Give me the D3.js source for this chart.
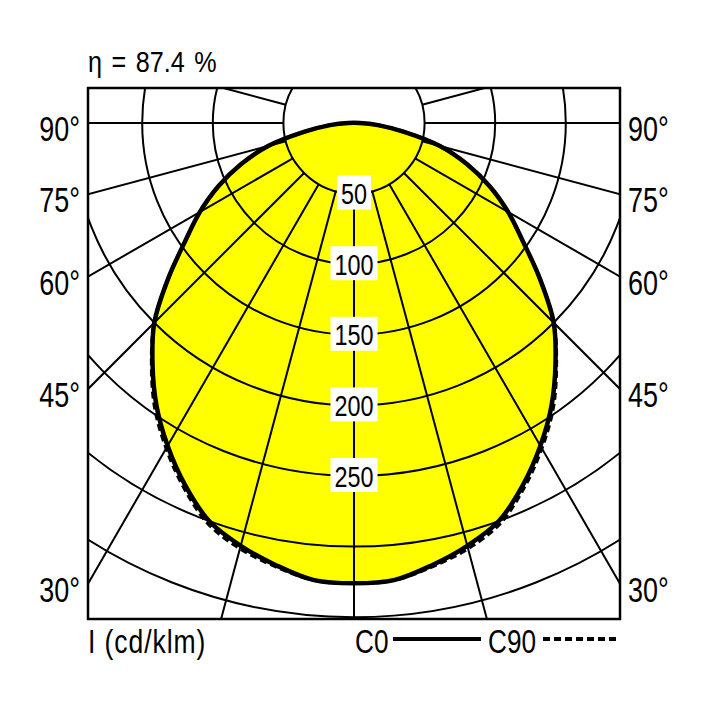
<!DOCTYPE html>
<html lang="en">
<head>
<meta charset="UTF-8">
<title>Luminous intensity distribution</title>
<style>
  body { margin: 0; background: #fff; }
  svg { display: block; }
  text { font-family: "Liberation Sans", Arial, sans-serif; fill: #000; }
</style>
</head>
<body>
<div id="chart"></div>
<script src="https://d3js.org/d3.v7.min.js"></script>
<script>
// gamma angles (degrees from nadir) and intensities in cd/klm
const gammas = [0, 5, 10, 15, 20, 25, 30, 35, 40, 45, 50, 55, 60, 65, 70, 75, 80, 85, 90];
const c0  = [326, 325, 318, 310, 300, 283, 264, 244, 222, 200, 172, 146, 126, 106, 85, 63, 36, 17, 4];
const c90 = [326, 325, 319, 312, 302, 285, 266, 246, 223, 200, 172, 146, 126, 106, 85, 63, 36, 17, 4];

const rings = [50, 100, 150, 200, 250, 300, 350];
const ringLabels = [50, 100, 150, 200, 250];
const spokes = [-105, -90, -75, -60, -45, -30, -15, 0, 15, 30, 45, 60, 75, 90, 105];
const sideLabels = [90, 75, 60, 45, 30];
const efficiency = "η = 87.4 %";
const unitLabel = "I (cd/klm)";
const planes = ["C0", "C90"];

const width = 708, height = 708;
const frame = { left: 88, right: 620, top: 88, bottom: 619 };
const cx = 354, cy = 123;

const r = d3.scaleLinear().domain([0, 50]).range([0, 70.6]);
const rad = g => g * Math.PI / 180;

const svg = d3.select("#chart").append("svg")
    .attr("width", width)
    .attr("height", height);

svg.append("clipPath").attr("id", "frame-clip")
  .append("rect")
    .attr("x", frame.left).attr("y", frame.top)
    .attr("width", frame.right - frame.left)
    .attr("height", frame.bottom - frame.top);

const clipped = svg.append("g").attr("clip-path", "url(#frame-clip)")
  .append("g").attr("transform", `translate(${cx},${cy})`);

// closed outline: right side 90 -> 0, then left side 5 -> 90
function outline(values) {
  const pts = [];
  for (let i = gammas.length - 1; i >= 0; i--) pts.push([Math.PI - rad(gammas[i]), r(values[i])]);
  for (let i = 1; i < gammas.length; i++) pts.push([Math.PI + rad(gammas[i]), r(values[i])]);
  return pts;
}

const line = d3.lineRadial()
    .angle(d => d[0])
    .radius(d => d[1])
    .curve(d3.curveCatmullRomClosed);

// yellow fill
clipped.append("path")
    .attr("d", line(outline(c0)))
    .attr("fill", "#ffff00")
    .attr("stroke", "none");

// rings
clipped.selectAll(".ring")
  .data(rings)
  .enter().append("circle")
    .attr("r", d => r(d))
    .attr("fill", "none")
    .attr("stroke", "#000")
    .attr("stroke-width", 2);

// spokes, starting at the 50 ring
clipped.selectAll(".spoke")
  .data(spokes)
  .enter().append("line")
    .attr("x1", d => r(50) * Math.sin(rad(d)))
    .attr("y1", d => r(50) * Math.cos(rad(d)))
    .attr("x2", d => 900 * Math.sin(rad(d)))
    .attr("y2", d => 900 * Math.cos(rad(d)))
    .attr("stroke", "#000")
    .attr("stroke-width", 2);

// curves
clipped.append("path")
    .attr("d", line(outline(c0)))
    .attr("fill", "none")
    .attr("stroke", "#000")
    .attr("stroke-width", 4.5)
    .attr("stroke-linejoin", "round");

clipped.append("path")
    .attr("d", line(outline(c90)))
    .attr("fill", "none")
    .attr("stroke", "#000")
    .attr("stroke-width", 3.5)
    .attr("stroke-dasharray", "7,4");

// frame
svg.append("rect")
    .attr("x", frame.left).attr("y", frame.top)
    .attr("width", frame.right - frame.left)
    .attr("height", frame.bottom - frame.top)
    .attr("fill", "none")
    .attr("stroke", "#000")
    .attr("stroke-width", 2.5);

// squeezed text helper, to look like a narrow face
function label(parent, x, y, str, size, sx, anchor) {
  return parent.append("text")
      .attr("transform", `translate(${x},${y}) scale(${sx},1)`)
      .attr("text-anchor", anchor || "start")
      .attr("font-size", size)
      .text(str);
}

// ring labels on white boxes
const plot = svg.append("g").attr("transform", `translate(${cx},${cy})`);
ringLabels.forEach(v => {
  const g = plot.append("g").attr("transform", `translate(0,${r(v)})`);
  const box = g.append("rect").attr("fill", "#fff");
  const t = label(g, 0, 10.5, v, 30, 0.78, "middle");
  const w = t.node().getBBox().width * 0.78;
  box.attr("x", -w / 2 - 4).attr("y", -18)
     .attr("width", w + 8).attr("height", 34);
});

// side angle labels where the spokes hit the frame
const sideY = g => g === 90 ? cy : cy + (cx - frame.left) / Math.tan(rad(g));
sideLabels.forEach(g => {
  label(svg, 80, sideY(g) + 18, g + "°", 35, 0.77, "end");
  label(svg, 628, sideY(g) + 18, g + "°", 35, 0.77, "start");
});

// title
label(svg, frame.left, 72, efficiency, 30, 0.84).attr("word-spacing", 3);

// legend
label(svg, frame.left, 653, unitLabel, 34, 0.78).attr("letter-spacing", 1.2);
label(svg, 355, 653, planes[0], 34, 0.77);
svg.append("line")
    .attr("x1", 393).attr("x2", 481)
    .attr("y1", 639).attr("y2", 639)
    .attr("stroke", "#000").attr("stroke-width", 4);

label(svg, 488, 653, planes[1], 34, 0.77);
svg.append("line")
    .attr("x1", 543).attr("x2", 619)
    .attr("y1", 639).attr("y2", 639)
    .attr("stroke", "#000").attr("stroke-width", 4)
    .attr("stroke-dasharray", "7,4");
</script>
</body>
</html>
